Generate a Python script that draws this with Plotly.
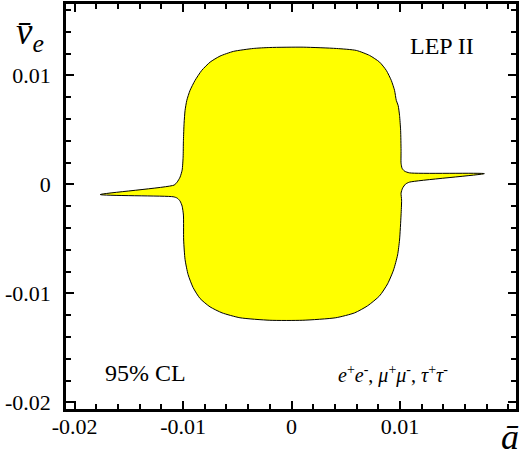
import plotly.graph_objects as go

# Boundary of the 95% CL region (units of 1e-3)
a_bar = [-9.82, -9.66, -9.36, -8.90, -8.28, -7.51, -6.60, -5.37, -3.53, -2.00, 1.07, 4.14,
         5.98, 7.20, 8.12, 8.74, 9.20, 9.50, 9.66, 9.83, 9.96, 10.06, 10.10, 10.10, 10.19,
         10.42, 10.88, 17.78, 10.88, 10.51, 10.24, 10.10, 10.15, 10.10, 9.96, 9.78, 9.41,
         8.86, 8.12, 7.02, 5.82, 4.08, 1.04, -2.00, -4.76, -6.41, -7.52, -8.44, -9.08,
         -9.54, -9.82, -9.95, -9.97, -10.09, -10.28, -10.55, -10.92, -17.64, -10.83,
         -10.55, -10.28, -10.09, -10.00, -9.97, -9.91, -9.82]
v_bar = [6.79, 7.71, 8.63, 9.54, 10.46, 11.22, 11.77, 12.20, 12.47, 12.56, 12.59, 12.47,
         12.29, 11.83, 11.22, 10.46, 9.54, 8.63, 7.71, 7.25, 6.34, 4.96, 3.14, 1.95, 1.49,
         1.22, 1.06, 0.99, 0.21, 0.03, -0.34, -0.80, -1.44, -2.81, -5.10, -6.47, -7.84,
         -9.12, -10.22, -11.13, -11.78, -12.23, -12.46, -12.46, -12.23, -11.78, -11.23, -10.46, -9.46,
         -8.27, -6.89, -5.10, -2.81, -1.99, -1.53, -1.25, -1.13, -0.93, -0.06,
         0.21, 0.67, 1.31, 2.50, 4.05, 5.61, 6.79]

x_ticks = [-0.02, -0.01, 0, 0.01]
x_ticktext = ["-0.02", "-0.01", "0", "0.01"]
y_ticks = [-0.02, -0.01, 0, 0.01]
y_ticktext = ["-0.02", "-0.01", "0", "0.01"]

W, H = 520, 453
L, R, T, B = 66, 4, 4, 44
pw, ph = W - L - R, H - T - B

def px(x):
    return (x - L) / pw

def py(y):
    return (H - B - y) / ph

serif = "Liberation Serif"

fig = go.Figure()
fig.add_trace(go.Scatter(
    x=[v * 1e-3 for v in a_bar], y=[v * 1e-3 for v in v_bar],
    mode="lines", fill="toself", fillcolor="#FFFF00",
    line=dict(color="black", width=1, shape="spline", smoothing=0.6),
    hoverinfo="skip", showlegend=False))

axis_common = dict(
    showgrid=False, zeroline=False, showline=True, linecolor="black", linewidth=2.5,
    mirror="allticks", ticks="inside", ticklen=8, tickwidth=2, tickcolor="black",
    automargin=False,
    tickfont=dict(family=serif, size=22, color="black"),
    minor=dict(ticks="inside", ticklen=5, tickwidth=1.5, tickcolor="black", dtick=0.002, showgrid=False),
)

fig.update_xaxes(range=[-0.0208, 0.0207], tickvals=x_ticks, ticktext=x_ticktext,
                 ticklabelstandoff=-4, **axis_common)
fig.update_yaxes(range=[-0.0206, 0.01655], tickvals=y_ticks, ticktext=y_ticktext,
                 ticklabelstandoff=8, **axis_common)

annots = [
    dict(text="LEP II", x=px(442), y=py(46), size=24, xa="center"),
    dict(text="95% CL", x=px(145), y=py(373), size=24, xa="center"),
    dict(text="<i>e</i><sup>+</sup><i>e</i><sup>-</sup>, <i>μ</i><sup>+</sup><i>μ</i><sup>-</sup>, <i>τ</i><sup>+</sup><i>τ</i><sup>-</sup>",
         x=px(393), y=py(374), size=20, xa="center"),
    dict(text="<i>v\u0304</i><sub><i>e</i></sub>", x=px(14), y=py(35), size=37, xa="left"),
    dict(text="<i>a\u0304</i>", x=px(521), y=py(437), size=36, xa="right"),
]
for a in annots:
    fig.add_annotation(text=a["text"], x=a["x"], y=a["y"], xref="paper", yref="paper",
                       xanchor=a["xa"], yanchor="middle", showarrow=False,
                       font=dict(family=serif, size=a["size"], color="black"))

fig.update_layout(
    template="none",
    width=W, height=H, margin=dict(l=L, r=R, t=T, b=B),
    paper_bgcolor="white", plot_bgcolor="white",
)

fig.write_html("out.html", config={"displayModeBar": False},
               post_script="document.body.style.margin='0';document.body.style.overflow='hidden';")
